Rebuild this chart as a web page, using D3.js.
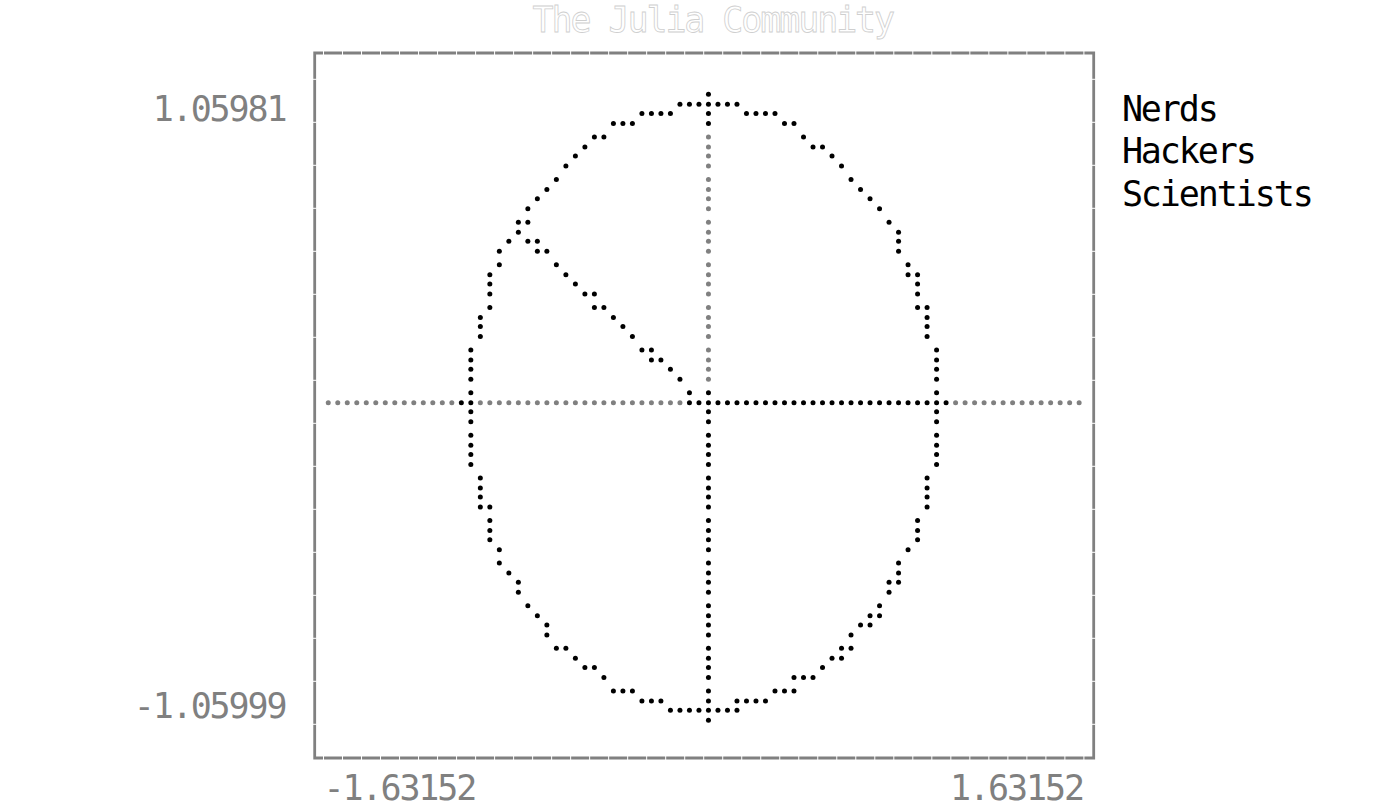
<!DOCTYPE html>
<html>
<head>
<meta charset="utf-8">
<script src="https://cdn.jsdelivr.net/npm/d3@7"></script>
<style>
  html, body { margin: 0; padding: 0; background: #fff; }
  svg { display: block; }
  text { font-family: "DejaVu Sans Mono", monospace; }
</style>
</head>
<body>
<svg id="chart" width="1387" height="811"></svg>
<script>
// ---- data ----
const titleText = "The Julia Community";
const categories = ["Nerds", "Hackers", "Scientists"];
const shares = [0.4, 0.35, 0.25];
const xLimits = [-1.63152, 1.63152];
const yLimits = [-1.05999, 1.05981];
const xTickLabels = ["-1.63152", "1.63152"];
const yTickLabels = ["1.05981", "-1.05999"];
const arcPointsPerSlice = 50;

// ---- canvas geometry (braille grid: 40x15 chars, 80x60 dots) ----
const PW = 80, PH = 60;
const cellW = 19.01, cellH = 42.62;
const gridLeft = 323.5;            // left edge of first plot cell
const dotTop = 94.3;               // first dot row
const rowOff = [0, 10, 19.2, 29.2];
const BLACK = "#000000", GRAY = "#808080";

const svg = d3.select("#chart");
svg.append("rect").attr("width", 1387).attr("height", 811).attr("fill", "#fff");

// data -> pixel (dot) coordinates
const px = d3.scaleLinear().domain(xLimits).range([0, PW]);
const py = d3.scaleLinear().domain(yLimits).range([PH, 0]);
// dot index -> screen
const colX = d3.scaleLinear().domain([0, PW - 1]).range([gridLeft + cellW / 4, gridLeft + cellW / 4 + (PW - 1) * cellW / 2]);
const rowY = r => dotTop + Math.floor(r / 4) * cellH + rowOff[r % 4];

// canvas state
const dots = new Map();           // key "c,r" -> true
const cellBlack = new Set();      // key "cx,cy"
const fl = v => Math.floor(v + 1e-9);
function pixel(x, y, black) {
  if (x < 0 || y < 0 || x > PW || y > PH) return;
  if (x >= PW) x = PW - 1;
  if (y >= PH) y = PH - 1;
  dots.set(x + "," + y, true);
  if (black) cellBlack.add(Math.floor(x / 2) + "," + Math.floor(y / 4));
}
function line(x1, y1, x2, y2, black) {
  const p1x = px(x1), p1y = py(y1), p2x = px(x2), p2y = py(y2);
  const dx = p2x - p1x, dy = p2y - p1y;
  const n = Math.max(Math.abs(dx), Math.abs(dy));
  let cx = p1x, cy = p1y;
  pixel(fl(cx), fl(cy), black);
  if (n === 0) return;
  const ix = dx / n, iy = dy / n;
  for (let i = 1; i <= n; i++) {
    cx += ix; cy += iy;
    pixel(fl(cx), fl(cy), black);
  }
}

// axes at zero (gray)
line(xLimits[0], 0, xLimits[1], 0, false);
line(0, yLimits[0], 0, yLimits[1], false);

// pie slices as closed shapes
const pie = d3.pie().sort(null).startAngle(0).endAngle(2 * Math.PI)(shares);
pie.forEach(s => {
  const pts = [[0, 0]];
  for (let k = 0; k < arcPointsPerSlice; k++) {
    const t = s.startAngle + (s.endAngle - s.startAngle) * k / (arcPointsPerSlice - 1);
    pts.push([Math.cos(t), Math.sin(t)]);
  }
  pts.push([0, 0]);
  for (let i = 0; i < pts.length - 1; i++) {
    line(pts[i][0], pts[i][1], pts[i + 1][0], pts[i + 1][1], true);
  }
});

// draw dots
const dotData = Array.from(dots.keys()).map(k => {
  const [c, r] = k.split(",").map(Number);
  return { c, r, black: cellBlack.has(Math.floor(c / 2) + "," + Math.floor(r / 4)) };
});
svg.append("g").selectAll("circle").data(dotData).join("circle")
  .attr("cx", d => colX(d.c)).attr("cy", d => rowY(d.r)).attr("r", 2.5)
  .attr("fill", d => d.black ? BLACK : GRAY);

// ---- frame ----
const fx0 = 314.7, fx1 = 1093.7, fy0 = 53, fy1 = 758;
const frame = svg.append("g").attr("stroke", GRAY).attr("stroke-width", 2.8).attr("fill", "none");
frame.append("path").attr("d", `M${fx0},${fy1} L${fx0},${fy0} L${fx1},${fy0} L${fx1},${fy1} Z`)
  .attr("stroke-linejoin", "miter").attr("stroke-linecap", "square");
// glyph-join notches
const notch = svg.append("g").attr("stroke", "#fff").attr("stroke-width", 1);
d3.range(0, 41).forEach(k => {
  const x = gridLeft + k * cellW;
  notch.append("line").attr("x1", x).attr("x2", x).attr("y1", fy0 - 2).attr("y2", fy0 + 2);
  notch.append("line").attr("x1", x).attr("x2", x).attr("y1", fy1 - 2).attr("y2", fy1 + 2);
});
d3.range(0, 16).forEach(k => {
  const y = 79.3 + k * 43.0;
  notch.append("line").attr("x1", fx0 - 2).attr("x2", fx0 + 2).attr("y1", y).attr("y2", y);
  notch.append("line").attr("x1", fx1 - 2).attr("x2", fx1 + 2).attr("y1", y).attr("y2", y);
});

// ---- text ----
const fontSize = 35, ls = -2.1;
const textRowBase = 120.5, textRowStep = 42.5;
svg.append("text").text(titleText)
  .attr("x", 532.6).attr("y", 31.5)
  .attr("font-size", fontSize).attr("letter-spacing", ls)
  .attr("fill", "#fff").attr("stroke", "#cfcfcf").attr("stroke-width", 0.8);

// y tick labels
svg.append("g").selectAll("text").data(yTickLabels).join("text")
  .text(d => d)
  .attr("x", 285.5)
  .attr("y", (d, i) => i === 0 ? textRowBase : 717.5)
  .attr("text-anchor", "end")
  .attr("font-size", fontSize).attr("letter-spacing", ls)
  .attr("fill", GRAY);

// x tick labels
svg.append("g").selectAll("text").data(xTickLabels).join("text")
  .text(d => d)
  .attr("x", (d, i) => i === 0 ? gridLeft : gridLeft + 40 * cellW - 1)
  .attr("y", 800)
  .attr("text-anchor", (d, i) => i === 0 ? "start" : "end")
  .attr("font-size", fontSize).attr("letter-spacing", ls)
  .attr("fill", GRAY);

// legend
svg.append("g").selectAll("text").data(categories).join("text")
  .text(d => d)
  .attr("x", 1121.9)
  .attr("y", (d, i) => textRowBase + i * textRowStep)
  .attr("font-size", fontSize).attr("letter-spacing", ls)
  .attr("fill", BLACK);
</script>
</body>
</html>
